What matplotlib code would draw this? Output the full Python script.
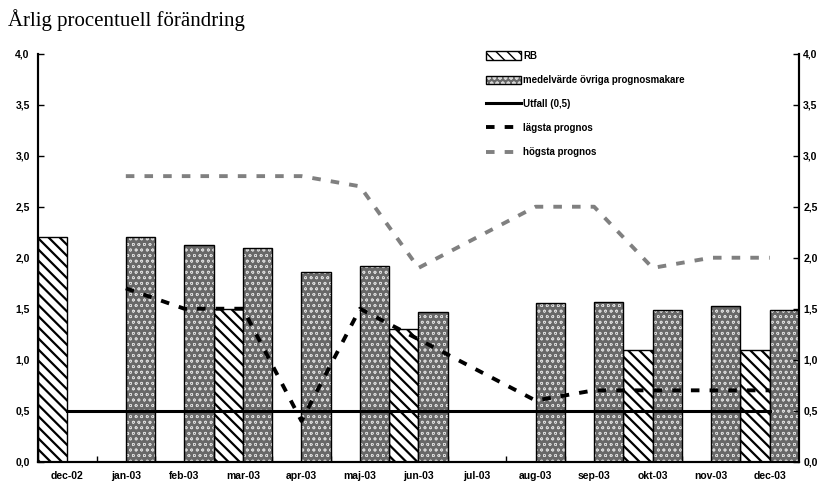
import matplotlib
matplotlib.use("Agg")
import matplotlib.pyplot as plt
import numpy as np
from matplotlib.ticker import FuncFormatter, FixedLocator
from matplotlib.legend_handler import HandlerTuple

nan = np.nan

manader = ['dec-02', 'jan-03', 'feb-03', 'mar-03', 'apr-03', 'maj-03', 'jun-03',
           'jul-03', 'aug-03', 'sep-03', 'okt-03', 'nov-03', 'dec-03']
rb = [2.2, nan, nan, 1.5, nan, nan, 1.3, nan, nan, nan, 1.1, nan, 1.1]
medelvarde = [nan, 2.2, 2.12, 2.1, 1.86, 1.92, 1.47, nan, 1.56, 1.57, 1.49, 1.53, 1.49]
utfall = [0.5] * 13
lagsta = [nan, 1.7, 1.5, 1.5, 0.4, 1.5, 1.2, 0.9, 0.6, 0.7, 0.7, 0.7, 0.7]
hogsta = [nan, 2.8, 2.8, 2.8, 2.8, 2.7, 1.9, 2.2, 2.5, 2.5, 1.9, 2.0, 2.0]

plt.rcParams['font.family'] = ['Liberation Sans', 'DejaVu Sans']
plt.rcParams['font.weight'] = 'bold'

fig = plt.figure(figsize=(8.23, 4.84), dpi=100)
ax = fig.add_axes([0.0462, 0.046, 0.9246, 0.843])

x = np.arange(len(manader))
w = 0.5

# RB: svart diagonalskraffering på vitt
with plt.rc_context({'hatch.linewidth': 1.6}):
    rb_bars = ax.bar(x - w / 2, rb, w, facecolor='white', edgecolor='black',
                     hatch='\\\\\\', linewidth=1.0, zorder=2)

# medelvärde: grått med små ljusa ringar, svart kant ovanpå
with plt.rc_context({'hatch.linewidth': 0.5}):
    med_fill = ax.bar(x + w / 2, medelvarde, w, facecolor='#686868', edgecolor='#d8d8d8',
                      hatch='ooo', linewidth=0, zorder=2)
med_edge = ax.bar(x + w / 2, medelvarde, w, fill=False, edgecolor='black',
                  linewidth=1.0, zorder=2.1)

l_utfall, = ax.plot(x, utfall, color='black', linewidth=2.2, zorder=3)
l_lagsta, = ax.plot(x, lagsta, color='black', linewidth=2.8, dashes=(2.2, 2.6), zorder=3)
l_hogsta, = ax.plot(x, hogsta, color='#808080', linewidth=2.8, dashes=(2.2, 2.6), zorder=3)

ax.set_xlim(-0.5, len(manader) - 0.5)
ax.set_ylim(0, 4)

# y-axlar på båda sidor med decimalkomma
ax.set_yticks(np.arange(0, 4.01, 0.5))
komma = FuncFormatter(lambda v, p: f"{v:.1f}".replace('.', ','))
ax.yaxis.set_major_formatter(komma)
ax.tick_params(axis='y', direction='in', length=4, width=1, labelsize=7.5, pad=6)
ax2 = ax.twinx()
ax2.set_ylim(0, 4)
ax2.set_yticks(np.arange(0, 4.01, 0.5))
ax2.yaxis.set_major_formatter(komma)
ax2.tick_params(axis='y', direction='in', length=4, width=1, labelsize=7.5, pad=3)

# månadsetiketter i mitten, streck vid gränserna
ax.xaxis.set_major_locator(FixedLocator(x[:-1] + 0.5))
ax.xaxis.set_minor_locator(FixedLocator(x))
ax.set_xticklabels([], minor=False)
ax.set_xticklabels(manader, minor=True)
ax.tick_params(axis='x', which='major', direction='in', length=4, width=1)
ax.tick_params(axis='x', which='minor', length=0, labelsize=7.5, pad=7)

for a in (ax, ax2):
    a.spines['top'].set_visible(False)
    for s in ('left', 'right', 'bottom'):
        a.spines[s].set_linewidth(1.5)

handles = [rb_bars[0], (med_fill[1], med_edge[1]), l_utfall, l_lagsta, l_hogsta]
labels = ['RB', 'medelvärde övriga prognosmakare', 'Utfall (0,5)',
          'lägsta prognos', 'högsta prognos']
fig.legend(handles, labels, loc='upper left', bbox_to_anchor=(0.585, 0.905),
           frameon=False, fontsize=7, handlelength=3.6, handleheight=0.9,
           handletextpad=0.2, labelspacing=1.45, borderpad=0,
           handler_map={tuple: HandlerTuple(ndivide=1)})

fig.text(0.01, 0.958, 'Årlig procentuell förändring', family='Liberation Serif',
         fontweight='normal', fontsize=15, va='center', ha='left')

fig.savefig('out.png', dpi=100)
